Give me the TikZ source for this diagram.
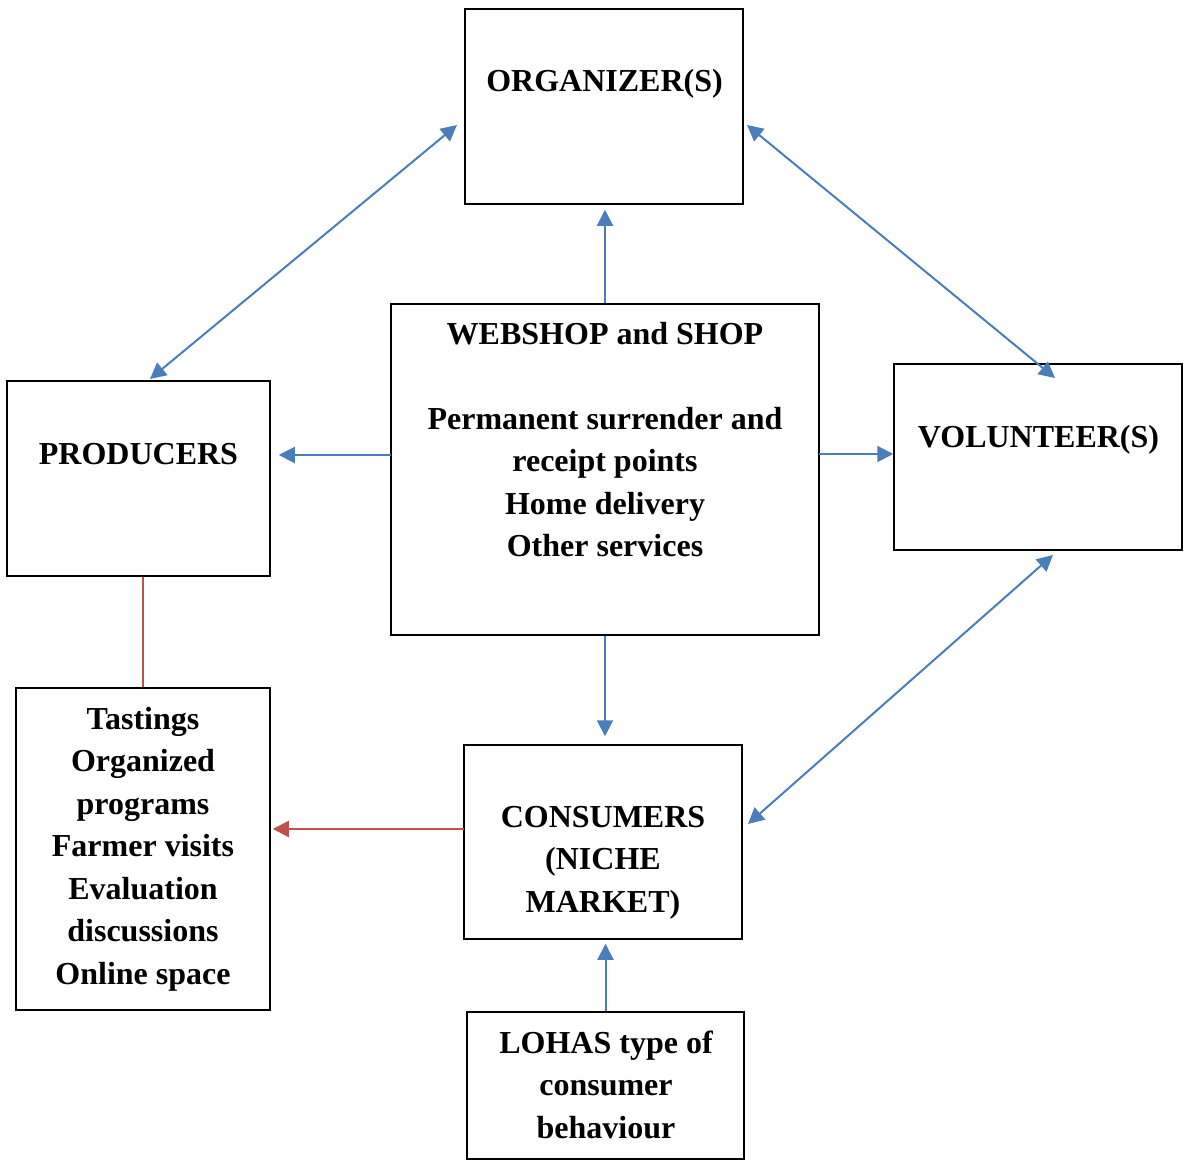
\documentclass[tikz,border=0pt]{standalone}
\usepackage{fontspec}
\setmainfont{Liberation Serif}
\usetikzlibrary{arrows.meta, positioning, calc}

\definecolor{linkblue}{HTML}{4A7EBB}
\definecolor{linkred}{HTML}{C0504D}

\begin{document}
\begin{tikzpicture}[
    x=0.5pt, y=-0.5pt,
    font=\fontsize{16}{21.25}\selectfont\bfseries,
    >= {Triangle[length=8pt, width=8pt]},
    box/.style={draw, line width=0.75pt, inner sep=0pt},
    label text/.style={align=center, inner sep=0pt},
    bluelink/.style={draw=linkblue, line width=1pt, color=linkblue},
    redlink/.style={draw=linkred, line width=1pt, color=linkred},
    ]

    \useasboundingbox (0,0) rectangle (1184,1167);

    % ==========================================
    % Boxes
    % ==========================================
    \node[box, minimum width=139pt, minimum height=97.5pt] (org) at (604, 106.5) {};
    \node[box, minimum width=131.5pt, minimum height=97.5pt] (prod) at (138.5, 478.5) {};
    \node[box, minimum width=214pt, minimum height=165.5pt] (web) at (605, 469.5) {};
    \node[box, minimum width=144pt, minimum height=93pt] (vol) at (1038, 457) {};
    \node[box, minimum width=127pt, minimum height=161pt] (act) at (143, 849) {};
    \node[box, minimum width=139pt, minimum height=97pt] (cons) at (603, 842) {};
    \node[box, minimum width=138.5pt, minimum height=73.5pt] (lohas) at (605.5, 1085.5) {};

    % Box texts
    \node[label text] (org-text) at (604.5, 84) {ORGANIZER(S)};
    \node[label text] (prod-text) at (138.5, 454) {PRODUCERS};
    \node[label text] (vol-text) at (1038.5, 440) {VOLUNTEER(S)};
    \node[label text] (web-text) at (605, 439.5) {WEBSHOP and SHOP\\[21.25pt]
        Permanent surrender and\\ receipt points\\ Home delivery\\ Other services};
    \node[label text] (act-text) at (143, 849) {Tastings\\ Organized\\ programs\\
        Farmer visits\\ Evaluation\\ discussions\\ Online space};
    \node[label text] (cons-text) at (603, 862.5) {CONSUMERS\\ (NICHE\\ MARKET)};
    \node[label text] (lohas-text) at (606, 1084.5) {LOHAS type of\\ consumer\\ behaviour};

    % ==========================================
    % Arrow end points
    % ==========================================
    \coordinate (org-sw) at (457, 125);
    \coordinate (prod-ne) at (150, 379);
    \coordinate (org-se) at (747, 125);
    \coordinate (vol-nw) at (1055, 378);
    \coordinate (vol-sw) at (1053, 555);
    \coordinate (cons-ne) at (748, 824);
    \coordinate (web-left) at (391, 455);
    \coordinate (web-right) at (819, 454);
    \coordinate (cons-left) at (464, 829);

    % ==========================================
    % Connectors
    % ==========================================
    \draw[bluelink, <->] (org-sw) -- (prod-ne);
    \draw[bluelink, <->] (org-se) -- (vol-nw);
    \draw[bluelink, <->] (vol-sw) -- (cons-ne);

    \draw[bluelink, ->, shorten >=2.5pt] (web.north) -- (web.north |- org.south);
    \draw[bluelink, ->, shorten >=4pt] (web-left) -- (web-left -| prod.east);
    \draw[bluelink, ->] (web-right) -- (web-right -| vol.west);
    \draw[bluelink, ->, shorten >=4pt] (web.south) -- (web.south |- cons.north);
    \draw[bluelink, ->, shorten >=2pt] (lohas.north) -- (lohas.north |- cons.south);

    \draw[redlink, ->, shorten >=1pt] (cons-left) -- (cons-left -| act.east);
    \draw[redlink] (act.north |- prod.south) -- (act.north);

\end{tikzpicture}
\end{document}
